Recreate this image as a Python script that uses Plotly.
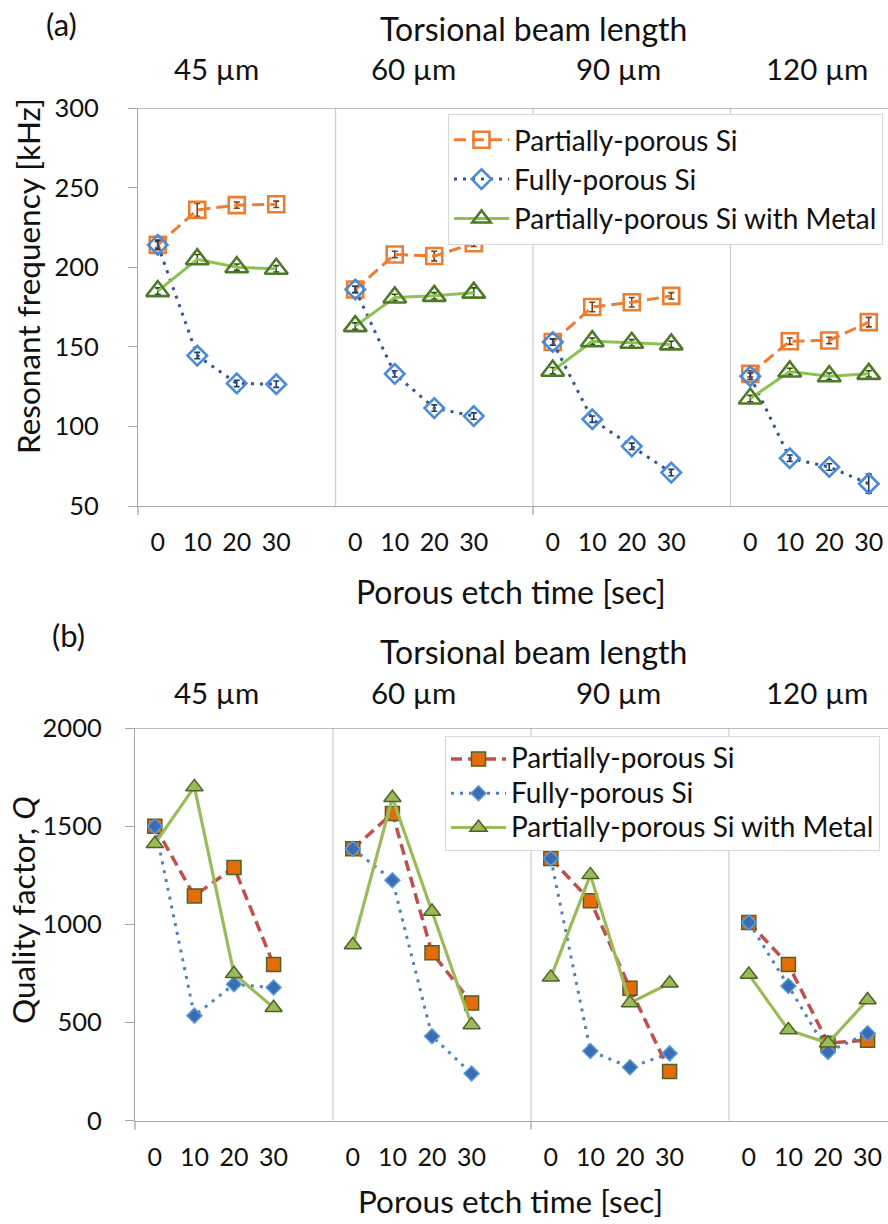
import plotly.graph_objects as go

W, H = 888, 1224

# ---- data -------------------------------------------------------------
etch_time_labels = ["0", "10", "20", "30"]
beam_lengths = ["45 µm", "60 µm", "90 µm", "120 µm"]
series_names = ["Partially-porous Si", "Fully-porous Si", "Partially-porous Si with Metal"]

# (a) resonant frequency [kHz]; one row per beam length, columns = etch time 0/10/20/30 s
freq_partial = [[214, 236, 239, 239.5], [186, 208, 207, 215], [153, 175, 178, 182], [133, 153.5, 154, 165.5]]
freq_full = [[214, 144.5, 127, 126.5], [186, 133, 111.5, 106.5], [153, 104.5, 87.5, 71], [131.5, 80, 74.5, 64]]
freq_metal = [[185, 205, 200, 199], [163, 181, 182, 184], [135, 153.5, 152.5, 151.5], [117.5, 134.5, 131.5, 133]]

freq_partial_err = [[2, 4, 2, 2], [2, 2, 3, 2], [2, 3, 3, 2], [2, 2, 2, 3]]
freq_full_err = [[3, 2, 2, 2], [2, 2, 2, 2], [2, 2, 2, 2], [2, 2, 2, 6]]
freq_metal_err = [[2, 3, 2, 2], [2, 2, 2, 3], [2, 2, 2, 2], [2, 2, 2, 2]]

# (b) quality factor Q
q_partial = [[1500, 1145, 1290, 795], [1385, 1565, 855, 600], [1335, 1120, 675, 250], [1010, 795, 395, 410]]
q_full = [[1500, 535, 695, 678], [1385, 1225, 430, 240], [1335, 355, 272, 343], [1010, 686, 350, 445]]
q_metal = [[1410, 1700, 748, 575], [895, 1645, 1065, 488], [730, 1252, 600, 700], [745, 462, 395, 615]]

GROUP = 5  # four etch times plus one empty slot between beam-length groups


def flatten(rows):
    xs, ys = [], []
    for g, row in enumerate(rows):
        for k, v in enumerate(row):
            xs.append(GROUP * g + k)
            ys.append(v)
        xs.append(GROUP * g + GROUP - 1)
        ys.append(None)
    return xs, ys


def px(x):
    return x / W


def py(y):
    return 1 - y / H


FONT = "Lato"
TXT = "#111111"
AXIS = "#A6A6A6"
SEP = "#D0D0D0"

fig = go.Figure()

# ---- panel (a) --------------------------------------------------------
top_styles = [
    (freq_partial, freq_partial_err, dict(color="#ED7D31", width=3, dash="12px,6px"),
     dict(symbol="square-open", size=16, color="#ED7D31", line=dict(color="#ED7D31", width=2.6)), "#843C0C"),
    (freq_full, freq_full_err, dict(color="#2F5597", width=3, dash="3px,6px"),
     dict(symbol="diamond-open", size=15, color="#4A8BD6", line=dict(color="#4A8BD6", width=2.6)), "#1F3864"),
    (freq_metal, freq_metal_err, dict(color="#8DC152", width=3),
     dict(symbol="triangle-up-open", size=20, color="#4E7A27", line=dict(color="#4E7A27", width=2.6)), "#2F4F17"),
]
for name, (vals, errs, line, marker, ecol) in zip(series_names, top_styles):
    xs, ys = flatten(vals)
    _, es = flatten(errs)
    fig.add_trace(go.Scatter(
        x=xs, y=ys, name=name, mode="lines+markers", connectgaps=False,
        line=line, marker=marker,
        error_y=dict(type="data", array=[e if e is not None else 0 for e in es],
                     color=ecol, thickness=1.6, width=3),
        xaxis="x", yaxis="y", legend="legend",
    ))

# ---- panel (b) --------------------------------------------------------
bot_styles = [
    (q_partial, dict(color="#C0504D", width=3.5, dash="11px,6px"),
     dict(symbol="square", size=14, color="#E46C0A", line=dict(color="#4F6228", width=1.5))),
    (q_full, dict(color="#4F81BD", width=3, dash="3px,6px"),
     dict(symbol="diamond", size=11.5, color="#3A6DB4", line=dict(color="#5B9BD5", width=1.5))),
    (q_metal, dict(color="#9BBB59", width=3.2),
     dict(symbol="triangle-up", size=15, color="#9BBB59", line=dict(color="#4F6228", width=1.5))),
]
for name, (vals, line, marker) in zip(series_names, bot_styles):
    xs, ys = flatten(vals)
    # the second legend uses tighter rows, so its labels carry their own text size
    fig.add_trace(go.Scatter(
        x=xs, y=ys, name='<span style="font-size:28px">' + name + "</span>",
        mode="lines+markers", connectgaps=False,
        line=line, marker=marker, xaxis="x2", yaxis="y2", legend="legend2",
    ))

tickvals = [GROUP * g + k for g in range(len(beam_lengths)) for k in range(len(etch_time_labels))]
ticktext = etch_time_labels * len(beam_lengths)

# plot-area geometry (pixels)
A_L, A_T, A_B = 138, 108, 506
B_L, B_T, B_B = 135, 728, 1120.7
A_STEP, B_STEP = 39.5, 39.6

xcommon = dict(tickvals=tickvals, ticktext=ticktext, ticks="", showline=True, linecolor=AXIS,
               linewidth=1.3, showgrid=False, zeroline=False, automargin=False,
               tickfont=dict(family=FONT, size=25, color=TXT), ticklabelstandoff=14)
ycommon = dict(ticks="outside", ticklen=9, tickcolor=AXIS, tickwidth=1.3, showline=True,
               linecolor=AXIS, linewidth=1.3, showgrid=False, zeroline=False, automargin=False,
               tickfont=dict(family=FONT, size=25.5, color=TXT))

legend_common = dict(xanchor="right", yanchor="top", bgcolor="white", bordercolor="#D9D9D9",
                     borderwidth=1, itemwidth=55, tracegroupgap=0)

fig.update_layout(
    template="none",
    width=W, height=H, margin=dict(l=0, r=0, t=0, b=0, pad=0),
    paper_bgcolor="white", plot_bgcolor="white",
    xaxis=dict(domain=[px(A_L), 1], range=[-0.5, -0.5 + (W - A_L) / A_STEP], anchor="y", **xcommon),
    yaxis=dict(domain=[py(A_B), py(A_T)], range=[50, 300], tickvals=[50, 100, 150, 200, 250, 300],
               anchor="x", ticklabelstandoff=24, **ycommon),
    xaxis2=dict(domain=[px(B_L), 1], range=[-0.5, -0.5 + (W - B_L) / B_STEP], anchor="y2", **xcommon),
    yaxis2=dict(domain=[py(B_B), py(B_T)], range=[0, 2000], tickvals=[0, 500, 1000, 1500, 2000],
                anchor="x2", ticklabelstandoff=18, **ycommon),
    legend=dict(x=px(883), y=py(114), font=dict(family=FONT, size=28, color=TXT), **legend_common),
    legend2=dict(x=px(880), y=py(736), font=dict(family=FONT, size=24, color=TXT), **legend_common),
    showlegend=True,
)

shapes = []
# group separators, top border line and the small ticks below the category axis
for xa, ya, y0, y1, left, bottom in [("x", "y", 50, 300, A_L, A_B), ("x2", "y2", 0, 2000, B_L, B_B)]:
    for g in range(1, len(beam_lengths)):
        xb = GROUP * g - 0.5
        shapes.append(dict(type="line", xref=xa, yref=ya, x0=xb, x1=xb, y0=y0, y1=y1,
                           line=dict(color=SEP, width=1.3), layer="below"))
    shapes.append(dict(type="line", xref="paper", yref=ya, x0=px(left - 9), x1=1, y0=y1, y1=y1,
                       line=dict(color=AXIS, width=1.3)))
    shapes.append(dict(type="line", xref="paper", yref="paper", x0=px(left), x1=px(left),
                       y0=py(bottom), y1=py(bottom + 9), line=dict(color=AXIS, width=1.3)))
    shapes.append(dict(type="line", xref=xa, yref="paper", x0=2 * GROUP - 0.5, x1=2 * GROUP - 0.5,
                       y0=py(bottom), y1=py(bottom + 9), line=dict(color=AXIS, width=1.3)))
fig.update_layout(shapes=shapes)

ann = []


def text(x, y, s, size, angle=0):
    ann.append(dict(x=px(x), y=py(y), xref="paper", yref="paper", text=s, showarrow=False,
                    xanchor="center", yanchor="middle", textangle=angle, borderpad=0,
                    font=dict(family=FONT, size=size, color=TXT)))


# panel (a) labels
text(62, 24, "(a)", 31)
text(533, 28, "Torsional beam length", 32)
for lab, cx in zip(beam_lengths, [216, 413, 618, 817]):
    text(cx, 68, lab, 29.5)
text(511, 591, "Porous etch time [sec]", 32)
text(28, 276, "Resonant frequency [kHz]", 31.5, -90)

# panel (b) labels
text(68, 635, "(b)", 31)
text(533, 651, "Torsional beam length", 32)
for lab, cx in zip(beam_lengths, [216, 413, 618, 817]):
    text(cx, 692, lab, 29.5)
text(510, 1201, "Porous etch time [sec]", 31.5)
text(23, 910, "Quality factor, <i>Q</i>", 31.5, -90)

fig.update_layout(annotations=ann)

fig.write_html("out.html")
